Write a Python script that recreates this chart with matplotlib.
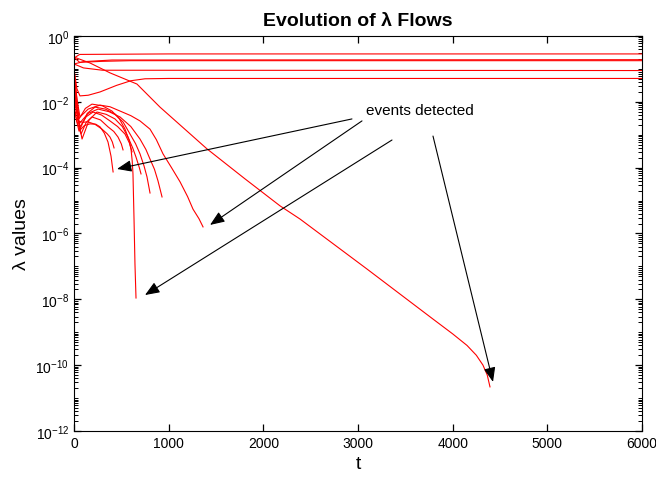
import numpy as np
import matplotlib
matplotlib.use("Agg")
import matplotlib.pyplot as plt
from matplotlib.ticker import FixedLocator

plt.rcParams['font.family'] = ['Liberation Sans', 'DejaVu Sans']
plt.rcParams['mathtext.fontset'] = 'custom'
plt.rcParams['mathtext.rm'] = 'Liberation Sans'
plt.rcParams['mathtext.it'] = 'Liberation Sans:italic'
plt.rcParams['xtick.direction'] = 'in'
plt.rcParams['ytick.direction'] = 'in'
plt.rcParams['xtick.top'] = True
plt.rcParams['ytick.right'] = True
plt.rcParams['xtick.major.size'] = 5
plt.rcParams['ytick.major.size'] = 5
plt.rcParams['ytick.minor.size'] = 3
plt.rcParams['ytick.minor.visible'] = True

# each flow: time points and log10(lambda)
# flows that settle to a constant value
t_a = [0, 60, 1000, 6000]
log_a = [-0.67, -0.56, -0.545, -0.545]
t_b = [0, 100, 400, 6000]
log_b = [-0.85, -0.78, -0.73, -0.72]
t_c = [0, 60, 300, 600, 6000]
log_c = [-0.65, -0.80, -0.77, -0.75, -0.75]
t_d = [0, 100, 300, 6000]
log_d = [-0.85, -0.97, -1.04, -1.05]
t_e = [0, 30, 63, 150, 275, 450, 600, 750, 1000, 6000]
log_e = [-1.0, -1.6, -1.82, -1.80, -1.70, -1.50, -1.36, -1.30, -1.29, -1.29]

# long decaying flow
t_f = [0, 169, 380, 665, 908, 1405, 1806, 2176, 2387, 3095, 3792, 4000,
       4151, 4250, 4320, 4365, 4394]
log_f = [-0.64, -0.82, -1.12, -1.46, -2.16, -3.43, -4.34, -5.16, -5.56, -7.08,
         -8.60, -9.05, -9.40, -9.70, -10.00, -10.30, -10.66]

# flows that are cut off by an event
t_g1 = [0, 25, 53, 110, 169, 230, 275, 320, 359, 391, 413]
log_g1 = [-2.07, -2.55, -2.89, -2.72, -2.67, -2.68, -2.76, -2.95, -3.22, -3.65, -4.13]
t_g2 = [0, 20, 42, 90, 148, 220, 296, 350, 380, 405, 423]
log_g2 = [-1.46, -2.05, -2.58, -2.62, -2.61, -2.68, -2.83, -2.97, -3.07, -3.22, -3.40]
t_g3 = [0, 35, 74, 130, 190, 280, 359, 420, 465, 500, 518]
log_g3 = [-2.22, -2.62, -2.98, -2.62, -2.46, -2.55, -2.76, -2.90, -3.07, -3.28, -3.46]
t_g4 = [0, 30, 63, 130, 201, 290, 380, 460, 539, 585, 613]
log_g4 = [-1.91, -2.35, -2.76, -2.45, -2.31, -2.40, -2.58, -2.75, -2.98, -3.25, -3.52]
t_g5 = [0, 40, 85, 160, 243, 340, 433, 510, 570, 620, 655, 690, 708]
log_g5 = [-1.76, -2.45, -3.13, -2.55, -2.31, -2.38, -2.52, -2.75, -3.07, -3.40,
          -3.68, -4.00, -4.19]
t_g6 = [0, 30, 63, 140, 222, 330, 433, 520, 592, 650, 697, 740, 771, 803]
log_g6 = [-1.31, -2.10, -2.83, -2.35, -2.16, -2.22, -2.37, -2.62, -2.98, -3.27,
          -3.58, -3.95, -4.28, -4.77]
t_g7 = [0, 25, 53, 150, 254, 370, 486, 600, 697, 760, 803, 850, 887, 930]
log_g7 = [-1.61, -2.15, -2.67, -2.35, -2.22, -2.30, -2.46, -2.75, -3.13, -3.45,
          -3.74, -4.05, -4.40, -4.89]
t_g8 = [0, 25, 53, 120, 190, 300, 401, 480, 539, 580, 602, 615, 623, 634, 644, 655]
log_g8 = [-1.0, -1.75, -2.52, -2.20, -2.07, -2.12, -2.28, -2.52, -2.83, -3.15,
          -3.43, -3.80, -4.19, -5.56, -6.93, -7.96]
t_g9 = [0, 30, 63, 150, 275, 380, 486, 600, 697, 803, 870, 940, 1030, 1120,
        1200, 1257, 1320, 1363]
log_g9 = [-1.15, -1.90, -2.46, -2.22, -2.10, -2.15, -2.28, -2.42, -2.58, -2.83,
          -3.15, -3.58, -4.00, -4.43, -4.88, -5.26, -5.55, -5.80]

flows = [(t_a, log_a), (t_b, log_b), (t_c, log_c), (t_d, log_d), (t_e, log_e),
         (t_f, log_f), (t_g1, log_g1), (t_g2, log_g2), (t_g3, log_g3),
         (t_g4, log_g4), (t_g5, log_g5), (t_g6, log_g6), (t_g7, log_g7),
         (t_g8, log_g8), (t_g9, log_g9)]

# annotation: arrow tails and heads (t, log10 lambda)
label_pos = (3084, -2.25)
arrow_tails = [(2936, -2.52), (3042, -2.58), (3359, -3.16), (3792, -3.04)]
arrow_heads = [(454, -4.04), (1437, -5.74), (750, -7.87), (4426, -10.51)]

fig = plt.figure(figsize=(6.56, 4.81), dpi=100)
ax = fig.add_axes([0.1128, 0.1019, 0.8659, 0.8212])
ax.set_yscale('log')

for t, lg in flows:
    ax.plot(t, 10.0 ** np.array(lg), color='red', linewidth=0.8)

for (tx, ty), (hx, hy) in zip(arrow_tails, arrow_heads):
    ax.annotate('', xy=(hx, 10 ** hy), xytext=(tx, 10 ** ty),
                arrowprops=dict(arrowstyle='-|>,head_length=0.55,head_width=0.22',
                                color='black', lw=0.8,
                                mutation_scale=16, shrinkA=0, shrinkB=0))
ax.text(label_pos[0], 10 ** label_pos[1], 'events detected', fontsize=11,
        ha='left', va='center')

ax.set_xlim(0, 6000)
ax.set_ylim(1e-12, 1e0)
ax.set_xticks(np.arange(0, 6001, 1000))
ax.yaxis.set_major_locator(FixedLocator([10.0 ** k for k in range(-12, 1, 2)]))
minor = [m * 10.0 ** k for k in range(-12, 0) for m in range(1, 10)]
ax.yaxis.set_minor_locator(FixedLocator(minor))
ax.yaxis.set_minor_formatter(plt.NullFormatter())
ax.tick_params(axis='both', which='major', labelsize=10, width=0.9)
ax.tick_params(axis='y', which='minor', width=0.7)

ax.set_title('Evolution of λ Flows', fontsize=14, fontweight='bold', pad=8)
ax.set_xlabel('t', fontsize=14)
ax.set_ylabel('λ values', fontsize=14)

fig.savefig('out.png', dpi=100)
